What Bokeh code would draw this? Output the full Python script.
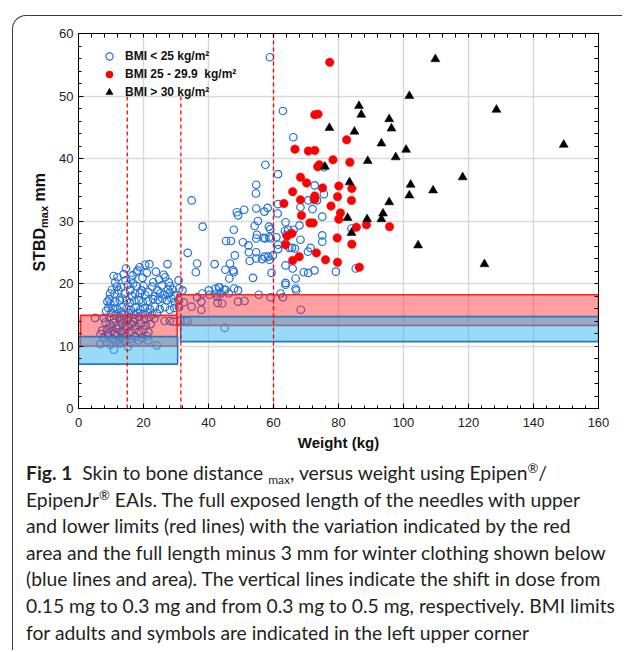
from bokeh.plotting import figure
from bokeh.models import (Legend, LegendItem, LinearAxis, SingleIntervalTicker, FixedTicker,
                          Range1d, Div, Spacer)
from bokeh.layouts import column, row
from bokeh.embed import file_html
from bokeh.resources import INLINE

# ---------------- data (weight kg, STBD max mm) ----------------
bmi_under25 = [
    (58.9, 56.2), (62.9, 47.6), (66.1, 43.4), (57.5, 39.0), (61.4, 37.5), (75.5, 38.6),
    (54.7, 35.8), (54.6, 34.4), (72.7, 35.7), (75.5, 34.3), (61.4, 32.7), (70.7, 33.3),
    (72.4, 33.4), (73.4, 33.3), (68.3, 32.2), (72.0, 31.9), (51.0, 31.8), (48.7, 31.4),
    (49.1, 30.9), (54.7, 32.0), (57.2, 31.5), (58.2, 32.1), (61.3, 31.2), (75.0, 30.7),
    (55.2, 30.0), (54.2, 29.2), (58.6, 29.1), (59.0, 28.7), (38.2, 29.1), (47.8, 28.6),
    (63.7, 29.8), (63.5, 28.4), (64.5, 28.6), (68.0, 29.3), (84.0, 28.8), (66.2, 28.6),
    (63.9, 27.8), (54.9, 27.8), (54.7, 27.2), (57.0, 27.3), (57.5, 27.2), (58.7, 27.4),
    (59.2, 27.2), (60.9, 27.4), (75.0, 27.7), (75.0, 26.7), (45.4, 26.8), (46.9, 26.8),
    (50.6, 26.6), (52.3, 26.1), (61.4, 26.2), (61.4, 25.5), (63.7, 26.4), (64.9, 25.7),
    (65.7, 25.7), (66.6, 25.6), (68.3, 27.0), (71.4, 25.7), (70.6, 25.1), (52.4, 25.0),
    (54.7, 25.0), (57.3, 24.3), (58.4, 24.3), (59.8, 24.5), (56.5, 23.9), (58.8, 23.8),
    (48.1, 24.5), (52.7, 23.6), (54.7, 24.0), (46.6, 23.2), (36.5, 23.2), (41.9, 23.1),
    (63.7, 22.9), (45.2, 22.2), (47.6, 22.1), (47.8, 21.8), (65.9, 22.4), (72.6, 22.1),
    (70.7, 21.7), (79.2, 21.9), (85.3, 22.4), (46.4, 20.8), (53.7, 20.9), (59.4, 21.7),
    (66.8, 20.8), (69.3, 21.8), (63.7, 20.1), (63.7, 19.8), (43.2, 19.4), (44.8, 19.0),
    (45.2, 19.0), (47.9, 19.2), (49.1, 18.9), (40.1, 18.9), (38.1, 18.4), (42.5, 18.4),
    (43.8, 18.4), (46.2, 18.4), (55.5, 18.2), (59.1, 17.8), (62.2, 18.4), (62.9, 17.8),
    (66.8, 19.2), (67.0, 18.9), (42.8, 16.9), (44.2, 16.8), (49.1, 17.1), (51.1, 17.2),
    (37.8, 17.1), (37.8, 15.8), (68.4, 15.8), (45.0, 12.9), (34.8, 33.3), (33.6, 24.9),
    (36.1, 21.8), (34.8, 16.3), (32.4, 17.0), (30.9, 17.3), (30.9, 16.2), (36.5, 17.8),
    (42.7, 17.9), (40.3, 18.2), (42.2, 19.2), (43.4, 19.4),
    # dense paediatric cluster, upper part
    (18.8, 22.6), (20.5, 23.0), (21.8, 23.1), (27.4, 23.1), (18.2, 22.1), (17.9, 21.8),
    (21.0, 21.7), (26.2, 21.4), (26.7, 21.0), (19.7, 20.9), (16.2, 20.6), (16.9, 20.0),
    (11.3, 20.2), (11.8, 19.5), (10.3, 19.0), (9.7, 18.4), (11.1, 18.4), (12.3, 18.9),
    (13.1, 19.4), (27.8, 20.2), (28.2, 19.6), (27.5, 19.0), (28.0, 18.5), (26.5, 18.2),
    (30.8, 20.5), (31.0, 19.2), (32.0, 18.9), (23.0, 20.2), (22.7, 19.5), (24.3, 18.9),
    (25.1, 18.4), (19.4, 18.9), (18.9, 18.4), (20.5, 18.2), (21.5, 18.6), (15.9, 18.9),
    (16.4, 18.0), (17.4, 18.4), (14.3, 18.4), (9.5, 17.5), (9.8, 16.8), (11.1, 17.1),
    (12.7, 17.3), (13.5, 17.6), (14.8, 17.3), (15.8, 16.9), (17.2, 17.2), (18.6, 17.3),
    (19.8, 17.0), (21.3, 17.2), (22.9, 17.5), (24.5, 17.4), (25.8, 17.6), (27.2, 17.3),
    (28.6, 17.6), (29.7, 17.0), (9.2, 16.1), (10.6, 16.0), (12.0, 15.9), (13.3, 16.2),
    (14.8, 16.0), (16.1, 15.8), (17.6, 16.2), (19.0, 15.8), (20.4, 16.1), (22.0, 15.9),
    (23.5, 16.3), (25.0, 15.9), (26.6, 16.2), (28.1, 15.8), (29.5, 16.1), (10.0, 15.3),
    (11.5, 15.1), (13.0, 15.4), (14.2, 15.0), (15.5, 15.3), (17.0, 15.0), (18.3, 15.3),
    (19.8, 15.1), (21.3, 15.4), (22.7, 15.0), (24.2, 15.2), (12.0, 21.0), (14.5, 20.5),
    (15.2, 19.8), (13.9, 21.5), (10.8, 21.2), (14.6, 22.4), (23.8, 21.9), (24.8, 20.6),
    (25.6, 19.7), (20.0, 19.6), (17.9, 19.6), (16.6, 21.3), (29.0, 19.0), (29.6, 18.1),
    (23.6, 18.0), (8.9, 17.1), (8.5, 15.6),
    # dense paediatric cluster, lower part
    (5.1, 14.5), (7.8, 14.5), (9.5, 14.6), (11.0, 14.4), (12.6, 14.7), (14.0, 14.3),
    (15.5, 14.6), (17.1, 14.4), (18.6, 14.7), (20.2, 14.3), (21.8, 14.6), (23.3, 14.4),
    (26.5, 14.0), (28.1, 14.0), (29.2, 13.9), (31.3, 14.0), (32.8, 14.0), (33.6, 14.0),
    (8.3, 13.8), (9.6, 13.4), (10.9, 13.7), (12.3, 13.3), (13.6, 13.6), (15.0, 13.2),
    (16.4, 13.5), (17.8, 13.2), (19.3, 13.6), (20.7, 13.3), (22.2, 13.5), (7.3, 12.5),
    (8.9, 12.7), (10.2, 12.4), (11.6, 12.8), (13.0, 12.3), (14.4, 12.6), (15.8, 12.2),
    (17.2, 12.7), (18.6, 12.3), (20.0, 12.6), (21.5, 12.2), (6.8, 11.9), (7.8, 11.3),
    (9.2, 11.6), (10.5, 11.2), (11.9, 11.7), (13.3, 11.3), (14.7, 11.6), (16.2, 11.2),
    (17.6, 11.5), (19.5, 11.3), (21.0, 11.6), (8.6, 10.6), (9.8, 10.2), (6.7, 10.3),
    (11.4, 10.7), (12.8, 10.4), (14.1, 10.8), (18.5, 10.9), (21.5, 10.9), (24.1, 10.1),
    (16.0, 10.5), (10.9, 9.4), (15.2, 9.9), (10.1, 13.0), (12.9, 14.0), (14.9, 14.0),
    (16.9, 13.9), (11.2, 12.0), (13.8, 12.0), (9.1, 12.0), (12.4, 10.9),
]

bmi_25_to_30 = [
    (77.3, 55.4), (72.7, 47.0), (73.7, 47.1), (82.5, 43.0), (66.6, 41.5), (70.7, 41.2),
    (72.7, 41.3), (78.3, 39.8), (83.5, 39.4), (74.1, 39.0), (73.6, 38.7), (68.3, 37.0),
    (70.2, 36.1), (75.1, 35.3), (80.1, 35.6), (84.1, 35.2), (65.9, 34.7), (72.7, 34.0),
    (72.7, 33.5), (79.7, 33.9), (68.3, 33.4), (84.0, 33.3), (63.2, 32.8), (77.7, 32.4),
    (80.6, 31.3), (68.6, 30.9), (80.1, 30.3), (71.2, 29.7), (72.2, 29.7), (85.5, 29.0),
    (88.6, 29.4), (95.7, 29.1), (65.7, 28.0), (64.2, 27.6), (63.7, 26.2), (79.6, 27.3),
    (84.1, 26.3), (73.2, 24.9), (67.9, 24.3), (65.9, 23.7), (76.0, 23.8), (79.7, 23.4),
    (86.4, 22.6),
]

bmi_over30 = [
    (75.8, 38.7), (77.2, 44.9), (82.8, 30.5), (83.4, 36.2), (84.0, 28.1), (84.9, 44.3),
    (86.3, 48.4), (87.0, 47.0), (88.8, 30.3), (89.0, 39.6), (93.2, 42.4), (93.2, 30.3),
    (93.7, 31.2), (95.6, 46.3), (95.6, 33.0), (96.3, 44.8), (97.6, 40.2), (100.8, 41.4),
    (101.8, 50.0), (101.8, 34.1), (102.2, 35.8), (104.5, 26.1), (109.1, 34.9), (109.8, 55.9),
    (118.2, 37.0), (124.9, 23.1), (128.6, 47.8), (149.3, 42.2),
]

# needle length bands: one rect per dose group
red_left = [0.6, 30.2]
red_right = [30.4, 160.0]
red_bottom = [10.0, 13.3]
red_top = [14.9, 18.2]
blue_left = [0.0, 31.4]
blue_right = [30.5, 160.0]
blue_bottom = [7.1, 10.7]
blue_top = [11.5, 14.7]

# dose-shift weights and height of the dashed lines
dose_weights = [15.0, 31.5, 60.0]
dose_line_tops = [50.4, 50.4, 60.0]

legend_labels = ["BMI < 25 kg/m\u00b2", "BMI 25 - 29.9  kg/m\u00b2", "BMI > 30 kg/m\u00b2"]

FONT = "Liberation Sans"
YLAB_W = 36
BORDER_TOP, FRAME_H, BORDER_BOTTOM = 17, 375, 50
FIG_H = BORDER_TOP + FRAME_H + BORDER_BOTTOM

p = figure(x_range=Range1d(0, 160), y_range=Range1d(0, 60),
           frame_width=520, frame_height=FRAME_H,
           min_border_left=65 - YLAB_W, min_border_right=24, min_border_top=BORDER_TOP,
           min_border_bottom=BORDER_BOTTOM, margin=0,
           output_backend="svg", toolbar_location=None)
p.border_fill_alpha = 0
p.outline_line_color = "black"
p.outline_line_width = 1

xt = SingleIntervalTicker(interval=20, num_minor_ticks=5)
yt = SingleIntervalTicker(interval=10, num_minor_ticks=5)
p.xaxis.ticker = xt
p.yaxis.ticker = yt
p.xgrid.ticker = xt
p.ygrid.ticker = yt
p.grid.grid_line_color = "#d9d9d9"
p.grid.grid_line_width = 1.5

for ax in (p.xaxis[0], p.yaxis[0]):
    ax.major_tick_in = 5
    ax.major_tick_out = 0
    ax.minor_tick_in = 3
    ax.minor_tick_out = 0
    ax.axis_line_color = "black"
    ax.major_tick_line_color = "black"
    ax.minor_tick_line_color = "black"
    ax.major_label_text_font = FONT
    ax.major_label_text_font_size = "13px"
    ax.major_label_text_color = "#222222"
p.xaxis.major_label_standoff = 9
p.yaxis.major_label_standoff = 5
p.xaxis.axis_label = "Weight (kg)"
p.xaxis.axis_label_text_font = FONT
p.xaxis.axis_label_text_font_size = "15px"
p.xaxis.axis_label_text_font_style = "bold"
p.xaxis.axis_label_text_color = "#111111"
p.xaxis.axis_label_standoff = 4

# mirrored tick marks (no labels) on top and right
for loc, step, hi in (("above", 4, 160), ("right", 2, 60)):
    ax = LinearAxis(ticker=FixedTicker(ticks=[], minor_ticks=list(range(0, hi + 1, step))),
                    minor_tick_in=4, minor_tick_out=0, major_tick_in=0, major_tick_out=0,
                    axis_line_color="black", minor_tick_line_color="black")
    p.add_layout(ax, loc)

# scatter points
bx = [w for w, s in bmi_under25]
by = [s for w, s in bmi_under25]
rx = [w for w, s in bmi_25_to_30]
ry = [s for w, s in bmi_25_to_30]
tx = [w for w, s in bmi_over30]
ty = [s for w, s in bmi_over30]

r_blue = p.scatter(bx, by, marker="circle", size=7.5, fill_color=None,
                   line_color="#1f6fdc", line_width=1.2)
r_red = p.scatter(rx, ry, marker="circle", size=8.5, fill_color="#ff0000",
                  line_color="#ff0000", line_width=0.5)
r_tri = p.scatter(tx, ty, marker="triangle", size=9, fill_color="black",
                  line_color="black", line_width=0.5)

# bands
p.quad(left=red_left, right=red_right, bottom=red_bottom, top=red_top,
       fill_color="#ff1a1a", fill_alpha=0.42, line_color="#ff2020", line_width=1.6)
p.quad(left=blue_left, right=blue_right, bottom=blue_bottom, top=blue_top,
       fill_color="#2fb8ee", fill_alpha=0.5, line_color="#2a78b8", line_width=1.6)

# dashed dose lines
p.segment(x0=dose_weights, x1=dose_weights, y0=[0, 0, 0], y1=dose_line_tops,
          line_color="#ff0000", line_width=1.3, line_dash="4 3")

legend = Legend(items=[LegendItem(label=legend_labels[0], renderers=[r_blue]),
                       LegendItem(label=legend_labels[1], renderers=[r_red]),
                       LegendItem(label=legend_labels[2], renderers=[r_tri])],
                location=(21, 307), padding=0, margin=0, spacing=0,
                glyph_height=18, glyph_width=20, label_height=18, label_standoff=6,
                label_text_font=FONT, label_text_font_style="bold",
                label_text_font_size="12px", label_text_color="#111111",
                background_fill_alpha=0, border_line_alpha=0)
p.add_layout(legend)

# y-axis title with subscript, rotated
ylab_html = ('<div style="display:inline-block;writing-mode:vertical-rl;transform:rotate(180deg);'
             'font-family:\'Liberation Sans\';font-weight:bold;font-size:16px;line-height:16px;'
             'color:#111111;margin-top:157px;margin-left:19px;white-space:nowrap;">'
             'STBD<sub style="font-size:11px;line-height:0;">max</sub> mm</div>')
ylab = Div(text=ylab_html, width=YLAB_W, height=FIG_H, margin=0)

sub = '<sub style="font-size:12px;line-height:0;vertical-align:-4px">max</sub>'
sup = '<sup style="font-size:13px;line-height:0;vertical-align:7px">&reg;</sup>'
caption_lines = [
    '<b>Fig. 1</b>&nbsp;&nbsp;Skin to bone distance ' + sub + ', versus weight using Epipen' + sup + '/',
    'EpipenJr' + sup + ' EAIs. The full exposed length of the needles with upper',
    'and lower limits (red lines) with the variation indicated by the red',
    'area and the full length minus 3 mm for winter clothing shown below',
    '(blue lines and area). The vertical lines indicate the shift in dose from',
    '0.15 mg to 0.3 mg and from 0.3 mg to 0.5 mg, respectively. BMI limits',
    'for adults and symbols are indicated in the left upper corner',
]
caption_html = ('<div style="font-family:Lato;font-size:19.3px;line-height:26.6px;color:#231f20;'
                'padding:2px 0 0 13px;white-space:nowrap;">' + '<br>'.join(caption_lines) + '</div>')
cap = Div(text=caption_html, width=609, height=192, margin=0, styles={"overflow": "hidden"})

inner = column(row(ylab, p, margin=0, spacing=0), cap, margin=(0, 0, 0, 12), spacing=0,
               styles={"border-top": "1px solid #3c3c3c",
                       "border-left": "1px solid #3c3c3c",
                       "border-top-left-radius": "14px"})
layout = column(Spacer(width=10, height=15, margin=0), inner, margin=0, spacing=0)

open("out.html", "w").write(file_html(layout, INLINE))
